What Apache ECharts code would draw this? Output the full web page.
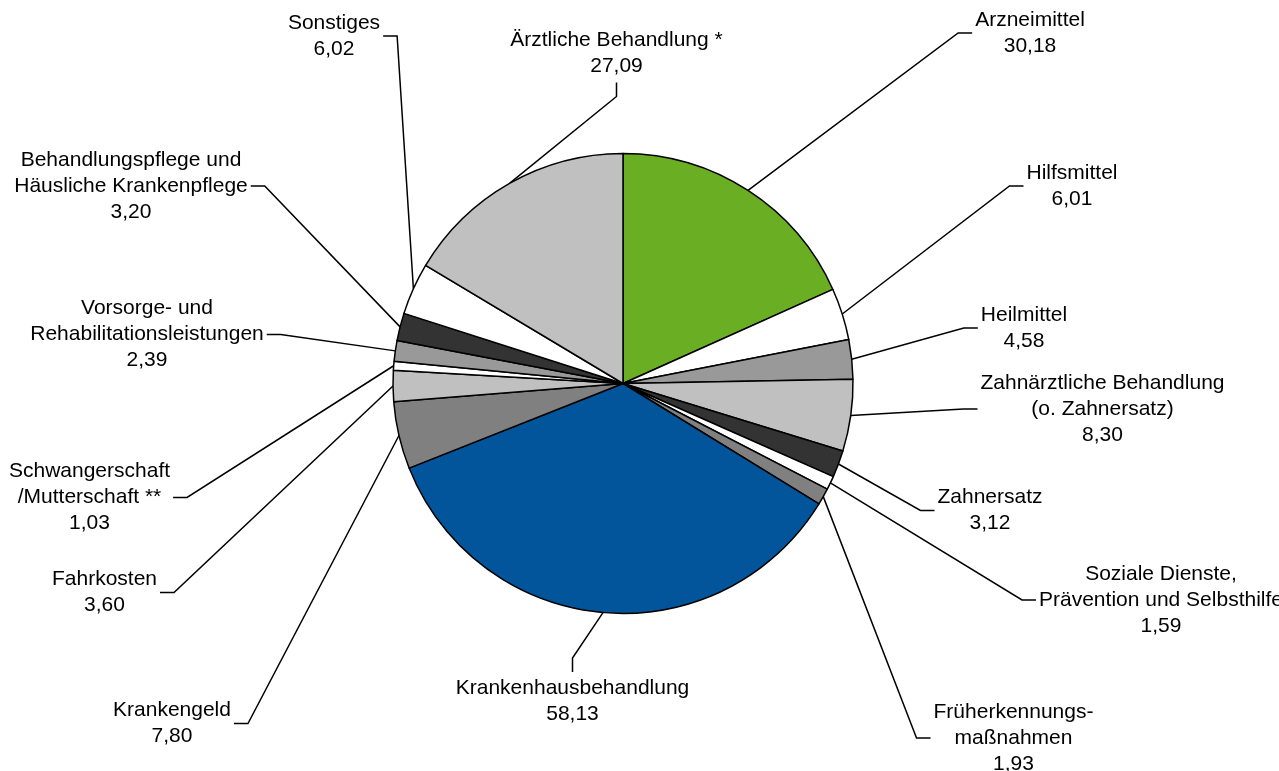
<!DOCTYPE html>
<html>
<head>
<meta charset="utf-8">
<title>Ausgaben</title>
<script src="https://cdn.jsdelivr.net/npm/echarts@6/dist/echarts.min.js"></script>
<style>
html, body { margin: 0; padding: 0; background: #fff; }
#main { width: 1279px; height: 771px; }
</style>
</head>
<body>
<div id="main"></div>
<script>
// Werte in Mrd. Euro, im Uhrzeigersinn ab 12 Uhr
var categories = [
  'Arzneimittel',
  'Hilfsmittel',
  'Heilmittel',
  'Zahnärztliche Behandlung\n(o. Zahnersatz)',
  'Zahnersatz',
  'Soziale Dienste,\nPrävention und Selbsthilfe',
  'Früherkennungs-\nmaßnahmen',
  'Krankenhausbehandlung',
  'Krankengeld',
  'Fahrkosten',
  'Schwangerschaft\n/Mutterschaft **',
  'Vorsorge- und\nRehabilitationsleistungen',
  'Behandlungspflege und\nHäusliche Krankenpflege',
  'Sonstiges',
  'Ärztliche Behandlung *'
];
var values = [30.18, 6.01, 4.58, 8.30, 3.12, 1.59, 1.93, 58.13, 7.80, 3.60, 1.03, 2.39, 3.20, 6.02, 27.09];
var sliceColors = ['#6AAE23', '#FFFFFF', '#999999', '#C0C0C0', '#333333', '#FFFFFF', '#808080',
  '#02559A', '#808080', '#C0C0C0', '#FFFFFF', '#999999', '#333333', '#FFFFFF', '#C0C0C0'];

// wo die Beschriftungen stehen (Mitte des Textblocks) und wo die Linie ansetzt
var labelSpots = [
  [1030, 33, 'left'], [1072, 186, 'left'], [1024, 328, 'left'], [1102.5, 409, 'left'],
  [990, 510.5, 'left'], [1161, 600, 'left'], [1013.5, 738, 'left'], [572.5, 701, 'top'],
  [172, 723.5, 'right'], [104.5, 592.5, 'right'], [89.5, 497.5, 'right'], [147, 334.5, 'right'],
  [131, 186, 'right'], [334, 36, 'right'], [616.5, 53.5, 'bottom']
];

var pieX = 623, pieY = 383.5, pieR = 230;
var total = values.reduce(function (a, b) { return a + b; }, 0);

function edgePoint(i) {
  var cum = 0;
  for (var j = 0; j < i; j++) cum += values[j];
  var a = (cum + values[i] / 2) / total * Math.PI * 2;
  return [pieX + pieR * Math.sin(a), pieY - pieR * Math.cos(a)];
}

var chart = echarts.init(document.getElementById('main'));
var option = {
  animation: false,
  backgroundColor: '#fff',
  series: [{
    type: 'pie',
    center: [pieX, pieY],
    radius: pieR,
    startAngle: 90,
    clockwise: true,
    avoidLabelOverlap: false,
    itemStyle: { borderColor: '#000', borderWidth: 1.5 },
    label: {
      show: true,
      position: 'outside',
      color: '#000',
      fontFamily: '"Liberation Sans", Arial, sans-serif',
      fontSize: 21,
      lineHeight: 26,
      formatter: function (p) {
        return p.name + '\n' + p.value.toFixed(2).replace('.', ',');
      }
    },
    labelLine: { show: true, length: 10, length2: 10, lineStyle: { color: '#000', width: 1.5 } },
    labelLayout: function (p) {
      var i = p.dataIndex;
      var s = labelSpots[i];
      var w = p.labelRect.width, h = p.labelRect.height;
      var x = s[0], y = s[1], gap = 3, seg = 14, end, elbow;
      if (s[2] === 'left') {
        end = [x - w / 2 - gap, y]; elbow = [end[0] - seg, y];
      } else if (s[2] === 'right') {
        end = [x + w / 2 + gap, y]; elbow = [end[0] + seg, y];
      } else if (s[2] === 'top') {
        end = [x, y - h / 2 - gap]; elbow = [x, end[1] - seg];
      } else {
        end = [x, y + h / 2 + gap]; elbow = [x, end[1] + seg];
      }
      return {
        x: x, y: y, align: 'center', verticalAlign: 'middle',
        labelLinePoints: [edgePoint(i), elbow, end]
      };
    },
    emphasis: { disabled: true },
    data: categories.map(function (n, i) {
      return { name: n, value: values[i], itemStyle: { color: sliceColors[i] } };
    })
  }]
};
chart.setOption(option);
</script>
</body>
</html>
